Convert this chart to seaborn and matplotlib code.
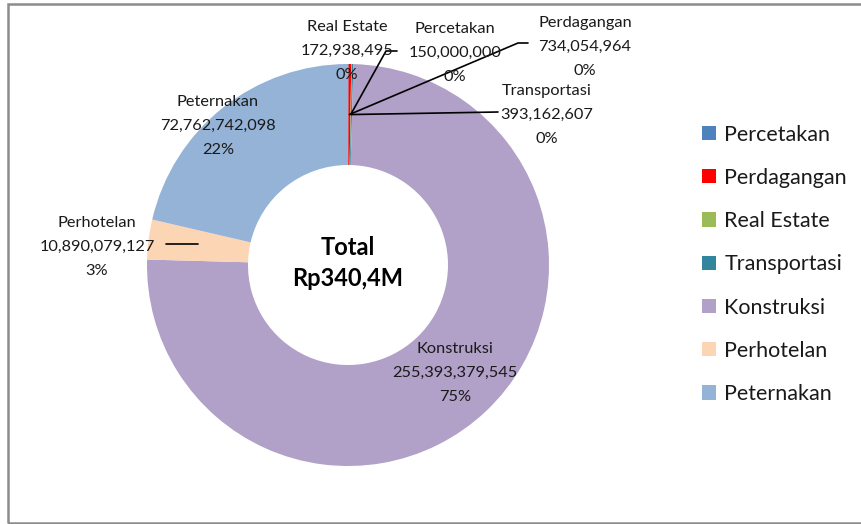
import matplotlib
matplotlib.use("Agg")
import matplotlib.pyplot as plt
import seaborn as sns
import numpy as np
from matplotlib.patches import Rectangle

# sectors and values (Rp)
sectors = ['Percetakan', 'Perdagangan', 'Real Estate', 'Transportasi',
           'Konstruksi', 'Perhotelan', 'Peternakan']
values = [150000000, 734054964, 172938495, 393162607,
          255393379545, 10890079127, 72762742098]
pct_labels = ['0%', '0%', '0%', '0%', '75%', '3%', '22%']
total_text = 'Total\nRp340,4M'

colors = ['#4F81BD', '#FF0000', '#9BBB59', '#31859C',
          '#B1A0C7', '#FCD5B5', '#95B3D7']

sns.set_theme(style="white")
plt.rcParams['font.family'] = ['Lato', 'DejaVu Sans']

W, H = 862, 524
fig = plt.figure(figsize=(W / 100, H / 100), dpi=100)
ax = fig.add_axes([0, 0, 1, 1])

cx, cy, R, ring = 348, H - 265, 201, 101
wedges, _ = ax.pie(values, colors=colors, startangle=90, counterclock=False,
                   center=(cx, cy), radius=R, frame=True,
                   wedgeprops=dict(width=ring, edgecolor='none'))
ax.set_xlim(0, W)
ax.set_ylim(0, H)
ax.set_aspect('equal')
ax.axis('off')

# centre text
ax.text(cx, H - 263, total_text, ha='center', va='center', fontsize=17,
        fontweight='bold', linespacing=1.45, color='black')

# data label positions (pixel coords of the middle line)
label_pos = {
    'Percetakan': (455, 53), 'Perdagangan': (585, 47),
    'Real Estate': (347, 51), 'Transportasi': (547, 115),
    'Konstruksi': (455, 373), 'Perhotelan': (97, 247),
    'Peternakan': (218, 126),
}
for s, v, p in zip(sectors, values, pct_labels):
    x, y = label_pos[s]
    ax.text(x, H - y, f"{s}\n{v:,}\n{p}", ha='center', va='center',
            fontsize=11.8, linespacing=1.9, color='#1a1a1a')

# leader lines from the middle of the ring
def anchor(i):
    theta = np.deg2rad((wedges[i].theta1 + wedges[i].theta2) / 2)
    r = R - ring / 2
    return cx + r * np.cos(theta), cy + r * np.sin(theta)

leaders = {
    'Real Estate': [(386, 51), (397, 51)],
    'Perdagangan': [(518, 43), (528, 43)],
    'Transportasi': [(498, 112)],
}
for s, pts in leaders.items():
    ax0, ay0 = anchor(sectors.index(s))
    xs = [ax0] + [p[0] for p in pts]
    ys = [ay0] + [H - p[1] for p in pts]
    ax.plot(xs, ys, color='black', lw=1.2)
ax.plot([166, 198], [H - 244, H - 244], color='black', lw=1.2)

# legend
leg = ax.legend(wedges, sectors, loc='upper left',
                bbox_to_anchor=(693 / W, 1 - 116 / H), frameon=False,
                fontsize=15.5, handlelength=0.65, handleheight=0.65,
                handletextpad=0.4, labelspacing=1.08, borderaxespad=0)
for t in leg.get_texts():
    t.set_color('#1a1a1a')

# chart border
ax.add_patch(Rectangle((8, H - 523), 900, 519, fill=False,
                       edgecolor='#8c8c8c', lw=1.8, clip_on=False))

fig.savefig('out.png', dpi=100)
